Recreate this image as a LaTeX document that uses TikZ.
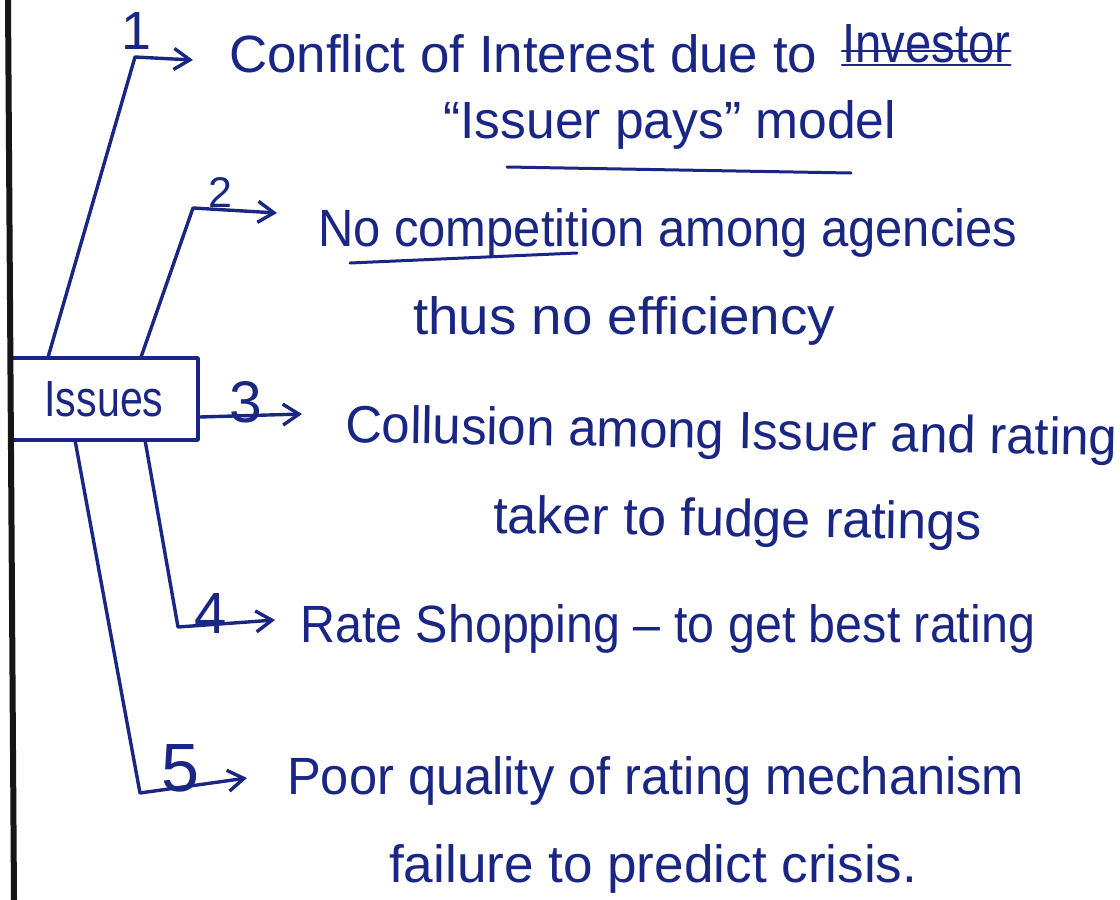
\documentclass[tikz,border=0pt]{standalone}
\usepackage{fontspec}
\setmainfont{Liberation Sans}
\usetikzlibrary{arrows.meta,calc}
\definecolor{ink}{RGB}{26,38,132}
\definecolor{edge}{RGB}{22,22,22}
% a line of notes, stretched to a given width at a fixed height
\newcommand\inkline[2]{\resizebox{#1pt}{38pt}{#2}}
\newcommand\inkdigit[2]{\resizebox{!}{#1pt}{#2}}

\begin{document}
\begin{tikzpicture}[x=1pt,y=-1pt,
  pen/.style={draw=ink, line width=3.4pt, line cap=round, line join=round},
  lead/.style={pen, -{Straight Barb[length=16pt,width=21pt]}},
  note/.style={anchor=base west, inner sep=0pt, text=ink, font=\fontsize{48}{48}\selectfont},
  num/.style={inner sep=0pt, text=ink, font=\fontsize{48}{48}\selectfont},
]
\useasboundingbox (0,0) rectangle (1120,900);
\fill[white] (0,0) rectangle (1120,900);

% central box
\node[pen, rectangle, minimum width=188pt, minimum height=82pt, inner sep=0pt,
      text=ink, font=\fontsize{48}{48}\selectfont] (issues) at (104,399)
      {\resizebox{119pt}{35pt}{Issues}};

% arrow tips and bends
\coordinate (c1) at (135,57);  \coordinate (t1) at (193,60);
\coordinate (c2) at (193,208); \coordinate (t2) at (277,213);
\coordinate (t3) at (302,414);
\coordinate (c4) at (178,627); \coordinate (t4) at (275,620);
\coordinate (c5) at (140,793); \coordinate (t5) at (247,778);

% branches
\draw[lead] ([xshift=40pt]issues.north west) -- (c1) -- (t1);
\draw[lead] ([xshift=133pt]issues.north west) -- (c2) -- (t2);
\draw[lead] ([yshift=-18pt]issues.east) -- (t3);
\draw[lead] ([xshift=137pt]issues.south west) -- (c4) -- (t4);
\draw[lead] ([xshift=67pt]issues.south west) -- (c5) -- (t5);

% branch numbers
\node[num] (n1) at (136,31)  {\inkdigit{37}{1}};
\node[num] (n2) at (220,192) {\inkdigit{30}{2}};
\node[num] (n3) at (246,402) {\inkdigit{41}{3}};
\node[num] (n4) at (211,613) {\inkdigit{40}{4}};
\node[num] (n5) at (180,768) {\inkdigit{47}{5}};

% notes
\node[note] (l1) at (229,72)  {\inkline{588}{Conflict of Interest due to}};
\node[note] (inv) at (842,62) {\inkline{168}{Investor}};
\node[note] (l2) at (443,138) {\inkline{453}{“Issuer pays” model}};
\node[note] (l3) at (318,246) {\inkline{699}{No competition among agencies}};
\node[note] (l4) at (413,334) {\inkline{422}{thus no efficiency}};
\node[note, rotate=-1] (l5) at (345,442) {\inkline{772}{Collusion among Issuer and rating}};
\node[note, rotate=-0.8] (l6) at (493,533) {\inkline{488}{taker to fudge ratings}};
\node[note] (l7) at (300,642) {\inkline{735}{Rate Shopping – to get best rating}};
\node[note] (l8) at (287,794) {\inkline{737}{Poor quality of rating mechanism}};
\node[note] (l9) at (389,882) {\inkline{528}{failure to predict crisis.}};

% struck-out word and underlines
\draw[pen, line width=2.6pt] ([yshift=11pt]inv.base west) -- ([yshift=11pt]inv.base east);
\draw[pen, line width=2.6pt] ([yshift=-3pt]inv.base west) -- ([yshift=-3pt]inv.base east);
\draw[pen, line width=3pt] (507,167) -- (851,173);
\draw[pen, line width=3pt] (350,263) -- (577,253);

% page edge
\fill[edge] (5,0) -- (11,0) -- (17,900) -- (11,900) -- cycle;
\end{tikzpicture}
\end{document}
